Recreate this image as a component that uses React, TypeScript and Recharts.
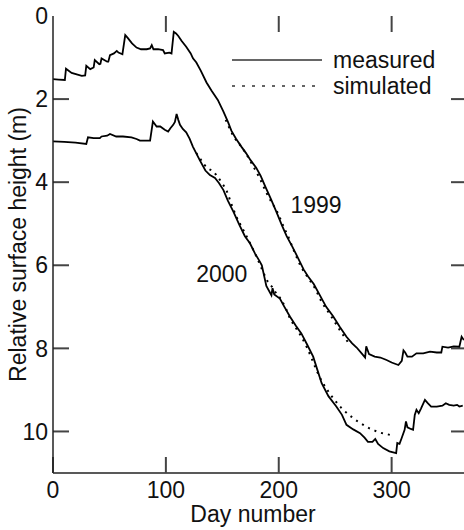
import { LineChart, Line, XAxis, YAxis, ReferenceDot, ReferenceLine } from "recharts"

const FONT = "'Liberation Sans', Arial, Helvetica, sans-serif"

// 1999 season, measured (day number, relative surface height in m)
const days99m = [0, 5, 10.5, 11.5, 16.5, 25.5, 28.5, 29.5, 33, 36, 37, 41, 42, 43, 48, 49, 50.5, 54, 56.5, 58, 61.5, 64, 66, 70, 74, 78, 83, 86, 87.5, 89, 93, 97.5, 99, 103, 105, 107, 109, 111, 114, 118, 122, 124, 127, 131, 136, 140.5, 146, 151, 155, 158, 162, 167, 171, 175, 180, 184, 188, 193, 198, 203, 207, 212, 217, 222, 226, 231, 236, 242, 248, 254, 260, 265, 269, 274, 276.5, 277.5, 280, 285, 290, 295.5, 300, 306, 309, 310.5, 312, 314, 318, 322, 328, 334, 340, 344, 345, 350, 355, 360, 362, 364]
const height99m = [1.52, 1.53, 1.54, 1.27, 1.37, 1.44, 1.43, 1.2, 1.28, 1.24, 1.06, 1.16, 1.15, 1.02, 1.1, 1.1, 0.94, 0.9, 0.84, 0.88, 0.92, 0.46, 0.52, 0.66, 0.76, 0.8, 0.8, 0.78, 0.7, 0.8, 0.8, 0.82, 0.9, 0.88, 0.9, 0.38, 0.42, 0.48, 0.6, 0.74, 0.9, 1.02, 1.12, 1.32, 1.6, 1.8, 2.02, 2.3, 2.55, 2.76, 2.95, 3.15, 3.3, 3.47, 3.65, 3.85, 4.1, 4.4, 4.72, 5.05, 5.3, 5.55, 5.82, 6.1, 6.27, 6.45, 6.7, 7.0, 7.22, 7.48, 7.72, 7.88, 7.98, 8.14, 8.22, 7.95, 8.14, 8.2, 8.22, 8.28, 8.34, 8.4, 8.3, 8.05, 8.1, 8.2, 8.2, 8.12, 8.12, 8.08, 8.1, 8.1, 7.96, 7.98, 7.95, 7.96, 7.72, 7.8]

// 1999 season, simulated
const days99s = [153, 156, 160, 165, 170, 176, 183, 189, 194, 198, 204, 209, 213, 220, 226, 232, 238, 245, 250, 254, 258, 262]
const height99s = [2.5, 2.68, 2.9, 3.08, 3.27, 3.55, 3.9, 4.25, 4.5, 4.68, 5.05, 5.35, 5.62, 6.05, 6.3, 6.55, 6.88, 7.17, 7.38, 7.56, 7.72, 7.88]

// 2000 season, measured
const days00m = [0, 10, 20, 29.5, 31, 36, 41.5, 43, 48, 50.5, 56, 62, 69.5, 74, 77, 82, 86, 88.5, 91.8, 95, 99, 102, 104, 106.5, 108, 109.5, 111, 112.5, 115, 118, 121, 124, 130, 135, 139, 143.5, 147, 151, 155, 160, 165, 170, 174.5, 179, 183, 185, 189, 193.5, 194.5, 196, 201, 205, 210, 215, 220, 225, 230.5, 234, 238, 244, 251, 256, 260, 266, 272, 276, 279, 283, 285.5, 288, 292.5, 298, 304, 305, 307, 309, 311.5, 312.7, 314, 317, 319, 320.5, 322, 324, 326, 329.5, 332, 335, 340, 345, 348, 351, 355, 358, 360, 363]
const height00m = [3.02, 3.03, 3.05, 3.08, 2.92, 2.94, 2.94, 2.9, 2.88, 2.84, 2.9, 2.9, 2.92, 2.96, 3.0, 3.0, 3.0, 2.54, 2.66, 2.66, 2.74, 2.78, 2.7, 2.62, 2.55, 2.36, 2.5, 2.62, 2.72, 2.8, 2.95, 3.15, 3.47, 3.72, 3.83, 3.9, 4.02, 4.19, 4.45, 4.72, 5.02, 5.3, 5.47, 5.72, 5.9, 6.0, 6.5, 6.72, 6.55, 6.7, 6.8, 7.0, 7.24, 7.45, 7.64, 7.9, 8.2, 8.5, 8.84, 9.15, 9.4, 9.6, 9.84, 9.95, 10.04, 10.15, 10.25, 10.25, 10.18, 10.3, 10.4, 10.48, 10.52, 10.28, 10.3, 10.15, 9.96, 9.76, 9.9, 9.94, 9.96, 9.6, 9.48, 9.56, 9.45, 9.24, 9.32, 9.4, 9.4, 9.38, 9.32, 9.36, 9.38, 9.36, 9.4, 9.38]

// 2000 season, simulated
const days00s = [127, 130, 134, 138, 142, 146, 150, 154, 158, 162, 166, 170, 174, 178, 182, 186, 190, 194, 198, 202, 206, 210, 215, 220, 225, 230, 234, 238, 242, 246, 250, 255, 260, 265, 270, 275, 280, 285, 290, 295, 301]
const height00s = [3.3, 3.42, 3.58, 3.68, 3.74, 3.88, 4.03, 4.22, 4.52, 4.8, 5.02, 5.22, 5.44, 5.66, 5.9, 6.15, 6.38, 6.52, 6.68, 6.82, 7.02, 7.28, 7.5, 7.72, 7.98, 8.3, 8.56, 8.78, 8.96, 9.12, 9.26, 9.42, 9.55, 9.66, 9.76, 9.84, 9.92, 9.98, 10.03, 10.06, 10.1]

const xTicks = [0, 100, 200, 300]
const yTicks = [0, 2, 4, 6, 8, 10]
const innerXTicks = [100, 200, 300]
const innerYTicks = [2, 4, 6, 8, 10]
const yearLabels = [
  { text: "1999", day: 233, h: 4.55 },
  { text: "2000", day: 149.5, h: 6.2 },
]

const zip = (xs: number[], ys: number[]) => xs.map((d, i) => ({ day: d, h: ys[i] }))

const AXIS = "#222"
const TICK = "#444"
const TICK_W = 2
const FS = 23
const textStyle = { fontSize: FS, fontFamily: FONT, fill: "#111" }

// inward tick lengths for the frame, in data units (~16px / ~14px)
const TOP_TICK_M = 0.385
const LEFT_TICK_DAYS = 14.2
const RIGHT_TICK_DAYS = 12.4

function YTitle({ viewBox }: any) {
  const cy = viewBox.y + viewBox.height / 2
  return (
    <text x={18} y={cy} transform={`rotate(-90 18 ${cy})`} textAnchor="middle" dominantBaseline="central" style={textStyle}>
      Relative surface height (m)
    </text>
  )
}

function XTitle({ viewBox }: any) {
  return (
    <text x={viewBox.x + viewBox.width / 2 - 6} y={522} textAnchor="middle" style={textStyle}>
      Day number
    </text>
  )
}

export default function App() {
  return (
    <div style={{ position: "relative", width: 466, height: 530, fontFamily: FONT }}>
      <style>{"body{margin:0;overflow:hidden;background:#fff}"}</style>
      <LineChart width={466} height={530} margin={{ top: 16, right: 1, bottom: 0, left: 0 }}>
        <XAxis xAxisId="b" dataKey="day" type="number" domain={[0, 365]} ticks={xTicks}
          height={57} tickSize={-16} tickMargin={25} tick={textStyle}
          tickLine={{ stroke: TICK, strokeWidth: TICK_W }} axisLine={{ stroke: AXIS, strokeWidth: 1.5 }}
          label={<XTitle />} />
        <YAxis yAxisId="l" type="number" domain={[0, 11]} reversed ticks={yTicks}
          width={53} tickSize={0} tickMargin={5} tick={textStyle} tickLine={false}
          axisLine={{ stroke: AXIS, strokeWidth: 1.5 }} label={<YTitle />} />
        <XAxis xAxisId="t" orientation="top" dataKey="day" type="number" domain={[0, 365]} ticks={innerXTicks}
          height={0} tick={false} tickLine={false} axisLine={{ stroke: AXIS, strokeWidth: 1.5 }} />

        {innerXTicks.map((v) => (
          <ReferenceLine key={`t${v}`} xAxisId="b" yAxisId="l" segment={[{ x: v, y: 0 }, { x: v, y: TOP_TICK_M }]}
            stroke={TICK} strokeWidth={TICK_W} ifOverflow="visible" />
        ))}
        {innerYTicks.map((v) => (
          <ReferenceLine key={`l${v}`} xAxisId="b" yAxisId="l" segment={[{ x: 0, y: v }, { x: LEFT_TICK_DAYS, y: v }]}
            stroke={TICK} strokeWidth={TICK_W} ifOverflow="visible" />
        ))}
        {innerYTicks.map((v) => (
          <ReferenceLine key={`r${v}`} xAxisId="b" yAxisId="l" segment={[{ x: 365 - RIGHT_TICK_DAYS, y: v }, { x: 365, y: v }]}
            stroke={TICK} strokeWidth={TICK_W} ifOverflow="visible" />
        ))}

        <Line xAxisId="b" yAxisId="l" data={zip(days99m, height99m)} dataKey="h" type="linear" dot={false}
          stroke="#000" strokeWidth={1.8} isAnimationActive={false} />
        <Line xAxisId="b" yAxisId="l" data={zip(days00m, height00m)} dataKey="h" type="linear" dot={false}
          stroke="#000" strokeWidth={1.8} isAnimationActive={false} />
        <Line xAxisId="b" yAxisId="l" data={zip(days99s, height99s)} dataKey="h" type="monotone" dot={false}
          stroke="#000" strokeWidth={2} strokeDasharray="2 5" isAnimationActive={false} />
        <Line xAxisId="b" yAxisId="l" data={zip(days00s, height00s)} dataKey="h" type="monotone" dot={false}
          stroke="#000" strokeWidth={2} strokeDasharray="2 5" isAnimationActive={false} />

        {yearLabels.map((l) => (
          <ReferenceDot key={l.text} xAxisId="b" yAxisId="l" x={l.day} y={l.h} r={0} stroke="none" fill="none"
            label={{ value: l.text, position: "center", fontSize: FS, fill: "#111", fontFamily: FONT }} />
        ))}
      </LineChart>

      <svg width={240} height={60} style={{ position: "absolute", left: 225, top: 44 }}>
        <line x1={7} x2={97} y1={16} y2={16} stroke="#333" strokeWidth={1.5} />
        <line x1={7} x2={97} y1={42} y2={42} stroke="#333" strokeWidth={1.5} strokeDasharray="3 7" />
        <text x={108} y={16} dominantBaseline="central" style={textStyle}>measured</text>
        <text x={108} y={42} dominantBaseline="central" style={textStyle}>simulated</text>
      </svg>
    </div>
  )
}
